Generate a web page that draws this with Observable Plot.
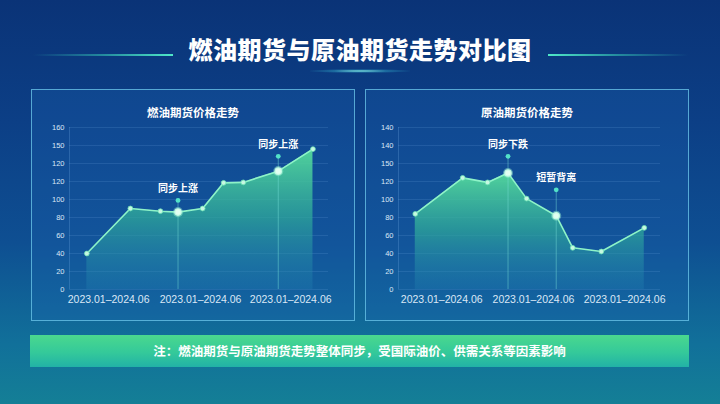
<!DOCTYPE html>
<html><head><meta charset="utf-8">
<script src="https://cdn.jsdelivr.net/npm/d3@7"></script>
<script src="https://cdn.jsdelivr.net/npm/@observablehq/plot@0.6"></script>
<style>
html,body{margin:0;padding:0;width:720px;height:404px;overflow:hidden;}
body{position:relative;background:linear-gradient(180deg,#0a3377 0%,#0c3f86 30%,#0e4f92 60%,#11709a 85%,#147f96 100%);font-family:"Noto Sans CJK SC",sans-serif;}
.title{position:absolute;left:0;top:32px;width:720px;text-align:center;color:#fff;font-size:24px;font-weight:900;line-height:34px;letter-spacing:0.5px;}
.tline{position:absolute;top:54px;height:2px;width:140px;}
.tl{left:33px;background:linear-gradient(90deg,rgba(60,220,190,0),rgba(60,220,190,0.5) 50%,#4fe8c8);}
.tr{left:548px;background:linear-gradient(90deg,#4fe8c8,rgba(60,220,190,0.5) 50%,rgba(60,220,190,0));}
.glow{position:absolute;left:310px;top:69px;width:100px;height:4px;background:radial-gradient(ellipse at center,rgba(140,245,235,0.95) 0%,rgba(60,200,220,0.35) 40%,rgba(60,200,220,0) 75%);}
.panel{position:absolute;top:89px;width:324px;height:232px;box-sizing:border-box;border:1px solid rgba(110,200,235,0.75);background:rgba(30,100,180,0.28);}
.ptitle{position:absolute;left:0;top:14px;width:100%;text-align:center;color:#fff;font-size:11.5px;font-weight:700;}
.chart{position:absolute;top:119px;width:324px;height:190px;}
.foot{position:absolute;left:30px;top:335px;width:659px;height:32px;background:linear-gradient(180deg,#4ad88e 0%,#34c99a 55%,#22b2a6 100%);color:#fff;font-size:12.5px;font-weight:700;text-align:center;line-height:32px;}
</style></head>
<body>
<div class="tline tl"></div><div class="tline tr"></div>
<div class="title">燃油期货与原油期货走势对比图</div>
<div class="glow"></div>
<div class="panel" style="left:31px"><div class="ptitle">燃油期货价格走势</div></div>
<div class="panel" style="left:365px"><div class="ptitle">原油期货价格走势</div></div>
<div class="chart" id="c1" style="left:31px"></div>
<div class="chart" id="c2" style="left:365px"></div>
<div class="foot">注：燃油期货与原油期货走势整体同步，受国际油价、供需关系等因素影响</div>
<script>
// ---- data ----
const fuelX = [6.7, 23.5, 35.1, 41.9, 51.4, 59.5, 67.1, 80.6, 94.0];
const fuelY = [40, 90, 87, 86, 90, 118.5, 119, 131.5, 156];
const fuelHighlight = [false, false, false, true, false, false, false, true, false];
const fuelNoteX = [41.9, 80.6];
const fuelNoteY = [99, 148];
const fuelNoteText = ["同步上涨", "同步上涨"];
const fuelYTickLabels = ["0","20","40","60","80","100","120","120","150","160"];
const fuelXTicks = [15.1, 50.6, 85.4];

const crudeX = [6.4, 24.5, 34.0, 41.8, 48.9, 60.2, 66.5, 77.4, 93.8];
const crudeY = [84, 124, 119, 129.5, 101, 82, 46.3, 42.2, 68.5];
const crudeHighlight = [false, false, false, true, false, true, false, false, false];
const crudeNoteX = [41.8, 60.2];
const crudeNoteY = [148, 110.7];
const crudeNoteText = ["同步下跌", "短暂背离"];
const crudeYTickLabels = ["0","20","40","60","80","100","120","150","140","140"];
const crudeXTicks = [16.5, 51.5, 86.3];

const yTicks = [0,20,40,60,80,100,120,140,160,180];
const xTickLabel = "2023.01–2024.06";

function gradDefs(id){
  return () => {
    const s = d3.create("svg:defs");
    const g = s.append("linearGradient").attr("id", id).attr("x1",0).attr("y1",0).attr("x2",0).attr("y2",1);
    [[0,"#55da9c",0.95],[0.5,"#2fab9a",0.72],[1,"#2280b2",0.3]].forEach(([o,c,a]) =>
      g.append("stop").attr("offset", o).attr("stop-color", c).attr("stop-opacity", a));
    return s.node();
  };
}

function makeChart(el, xs, ys, hl, nx, ny, nt, yLabels, xTicks, id, mL, mR){
  const pts = xs.map((x,i) => ({x, y: ys[i], h: hl[i]}));
  const notes = nx.map((x,i) => ({x, y: ny[i], t: nt[i]}));
  const chart = Plot.plot({
    width: 324, height: 190,
    marginLeft: mL, marginRight: mR, marginTop: 8, marginBottom: 20,
    x: {domain: [0,100]},
    y: {domain: [0,180]},
    style: {background: "transparent", color: "#dbe8f6", fontFamily: "'Liberation Sans', Arial, sans-serif", overflow: "visible"},
    marks: [
      gradDefs(id),
      Plot.gridY(yTicks, {stroke: "#7ab4ea", strokeOpacity: 0.16}),
      Plot.ruleX([0], {stroke: "#7ab4ea", strokeOpacity: 0.25}),
      Plot.axisY(yTicks, {tickSize: 0, tickPadding: 5, fontSize: 7.5, tickFormat: d => yLabels[yTicks.indexOf(d)], label: null}),
      Plot.axisX(xTicks, {tickSize: 0, tickPadding: 6, fontSize: 10.5, tickFormat: () => xTickLabel, label: null}),
      Plot.areaY(pts, {x: "x", y: "y", fill: `url(#${id})`}),
      Plot.ruleX(notes, {x: "x", y1: 0, y2: "y", stroke: "#78e0d8", strokeOpacity: 0.45, strokeWidth: 1}),
      Plot.line(pts, {x: "x", y: "y", stroke: "#8ef3c8", strokeWidth: 1.6}),
      Plot.dot(pts.filter(d => !d.h), {x: "x", y: "y", r: 2.4, fill: "#c6f8e2", stroke: "#6fe3b5", strokeWidth: 0.8}),
      Plot.dot(pts.filter(d => d.h), {x: "x", y: "y", r: 3.8, fill: "#e2fff2", stroke: "#9ff5d4", strokeOpacity: 0.45, strokeWidth: 2.5}),
      Plot.dot(notes, {x: "x", y: "y", r: 2.4, fill: "#52e2c8"}),
      Plot.text(notes, {x: "x", y: "y", text: "t", dy: -12, fill: "#ffffff", fontSize: 10, fontWeight: "bold", fontFamily: "'Noto Sans CJK SC', sans-serif"})
    ]
  });
  document.getElementById(el).appendChild(chart);
}

makeChart("c1", fuelX, fuelY, fuelHighlight, fuelNoteX, fuelNoteY, fuelNoteText, fuelYTickLabels, fuelXTicks, "g1", 38, 27);
makeChart("c2", crudeX, crudeY, crudeHighlight, crudeNoteX, crudeNoteY, crudeNoteText, crudeYTickLabels, crudeXTicks, "g2", 33, 29);
</script>
</body></html>
